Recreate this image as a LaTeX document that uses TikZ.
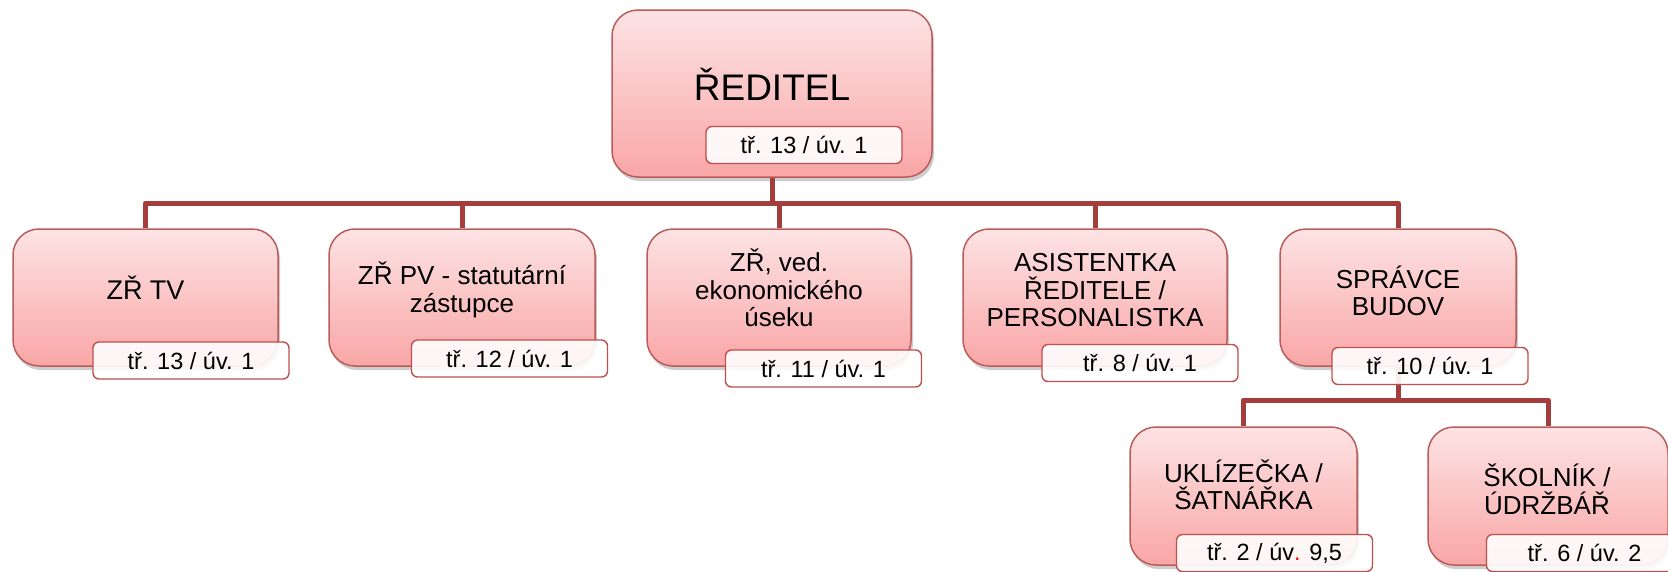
\documentclass[tikz,border=0pt]{standalone}
\usepackage{fontspec}
\setmainfont{Liberation Sans}
\usetikzlibrary{shadows}
\definecolor{boxtop}{RGB}{253,227,228}
\definecolor{boxbot}{RGB}{249,166,166}
\definecolor{boxedge}{RGB}{185,92,90}
\definecolor{tagedge}{RGB}{192,80,77}
\definecolor{connc}{RGB}{163,62,60}
\tikzset{
  orgbox/.style={rectangle, draw=boxedge, line width=1.5pt, rounded corners=26pt,
    top color=boxtop, bottom color=boxbot, inner sep=0pt,
    drop shadow={shadow xshift=2pt, shadow yshift=-4pt, opacity=0.28, fill=black!70}},
  tag/.style={rectangle, draw=tagedge, line width=1.4pt, rounded corners=6pt,
    fill=white, fill opacity=0.9, text opacity=1, inner sep=0pt,
    minimum width=196pt, minimum height=37pt,
    font=\fontsize{23.5}{28}\selectfont},
  txt/.style={align=center, inner sep=0pt, font=\fontsize{26}{27.5}\selectfont},
  connector/.style={draw=connc, line width=5pt, line join=round}
}
\begin{document}
\begin{tikzpicture}[x=1pt,y=-1pt]
\useasboundingbox (0,0) rectangle (1668,571);
% boxes
\node[orgbox, minimum width=320pt, minimum height=167pt] (r) at (772,93.5) {};
\node[orgbox, minimum width=265pt, minimum height=137pt] (c1) at (145.5,297.5) {};
\node[orgbox, minimum width=266pt, minimum height=137pt] (c2) at (462,297.5) {};
\node[orgbox, minimum width=264pt, minimum height=137pt] (c3) at (779,297.5) {};
\node[orgbox, minimum width=264pt, minimum height=137pt] (c4) at (1095,297.5) {};
\node[orgbox, minimum width=236pt, minimum height=137pt] (c5) at (1398,297.5) {};
\node[orgbox, minimum width=227pt, minimum height=138pt] (c6) at (1243.5,496) {};
\node[orgbox, minimum width=240pt, minimum height=138pt] (c7) at (1548,496) {};
% connectors
\coordinate (bar1) at (0,203);
\coordinate (bar2) at (0,400);
\foreach \c in {c1,c2,c3,c4,c5}
  \draw[connector] (r.south) -- (r.south |- bar1) -| (\c.north);
\foreach \c in {c6,c7}
  \draw[connector] (c5.south) -- (c5.south |- bar2) -| (\c.north);
% tags
\node[tag] (rl) at (804,145) {tř. 13 / úv. 1};
\node[tag] (l1) at (191,360.5) {tř. 13 / úv. 1};
\node[tag] (l2) at (509.5,358.5) {tř. 12 / úv. 1};
\node[tag] (l3) at (823.5,368.5) {tř. 11 / úv. 1};
\node[tag] (l4) at (1140,363) {tř. 8 / úv. 1};
\node[tag] (l5) at (1430,366) {tř. 10 / úv. 1};
\node[tag] (l6) at (1274.5,553) {tř. 2 / úv{\color{red}.} 9,5};
\node[tag] (l7) at (1584.5,553) {tř. 6 / úv. 2};
% texts
\node[txt, font=\fontsize{37}{40}\selectfont, anchor=base] (rt) at (772,100) {ŘEDITEL};
\node[txt, font=\fontsize{27}{28}\selectfont, anchor=base] (t1) at (145.5,299) {ZŘ TV};
\node[txt] (t2) at (462,290) {ZŘ PV - statutární\\zástupce};
\node[txt] (t3) at (779,288) {ZŘ, ved.\\ekonomického\\úseku};
\node[txt] (t4) at (1095,290.5) {ASISTENTKA\\ŘEDITELE /\\PERSONALISTKA};
\node[txt] (t5) at (1398,291) {SPRÁVCE\\BUDOV};
\node[txt] (t6) at (1243.5,485) {UKLÍZEČKA /\\ŠATNÁŘKA};
\node[txt] (t7) at (1547,489.5) {ŠKOLNÍK /\\ÚDRŽBÁŘ};
\end{tikzpicture}
\end{document}
